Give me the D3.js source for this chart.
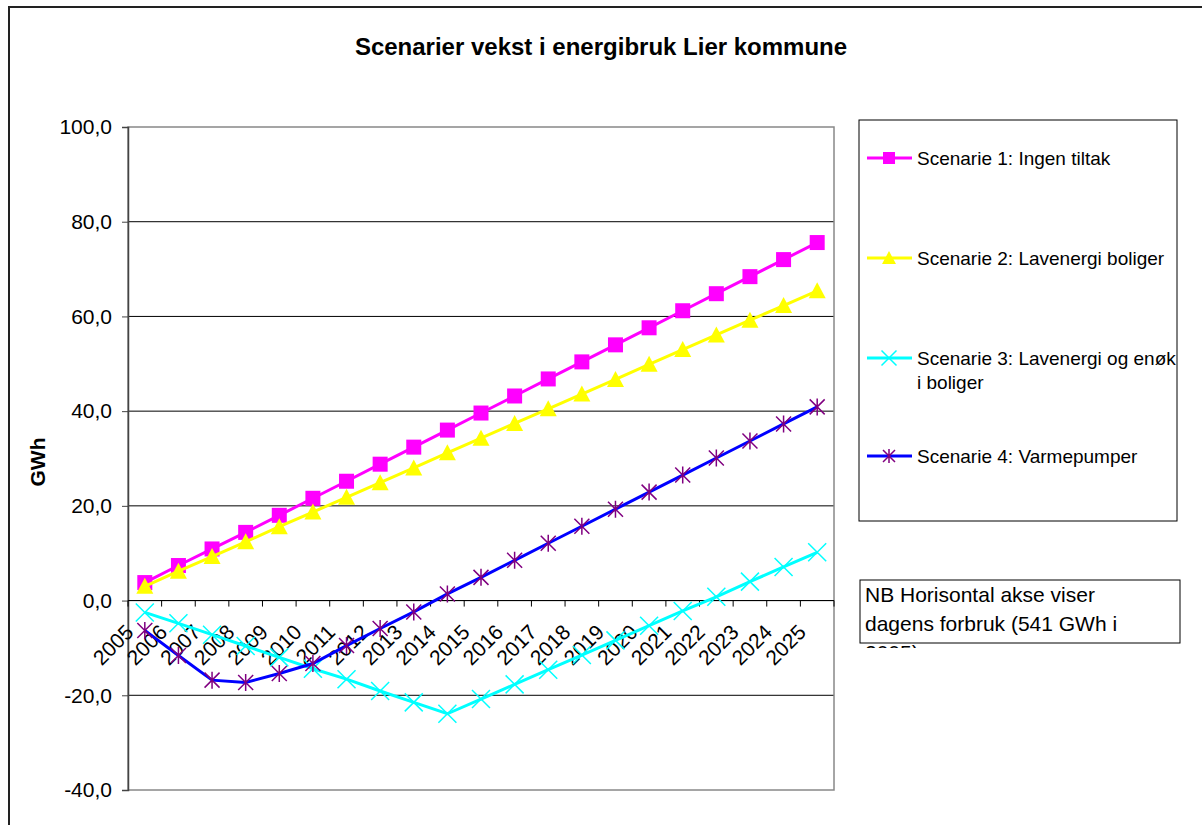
<!DOCTYPE html>
<html>
<head>
<meta charset="utf-8">
<script src="https://cdn.jsdelivr.net/npm/d3@7"></script>
<style>
  body { margin: 0; background: #fff; }
  svg { display: block; font-family: "Liberation Sans", Arial, sans-serif; }
</style>
</head>
<body>
<svg id="chart" width="1202" height="825"></svg>
<script>
var years = ["2005","2006","2007","2008","2009","2010","2011","2012","2013","2014","2015",
             "2016","2017","2018","2019","2020","2021","2022","2023","2024","2025"];

var scen1 = [3.8, 7.4, 10.9, 14.4, 18.0, 21.6, 25.2, 28.8, 32.4, 36.0, 39.6,
             43.2, 46.8, 50.4, 54.0, 57.6, 61.2, 64.8, 68.4, 72.0, 75.6];
var scen2 = [3.0, 6.2, 9.3, 12.4, 15.6, 18.7, 21.8, 24.9, 28.0, 31.2, 34.3,
             37.4, 40.5, 43.6, 46.7, 49.9, 53.0, 56.1, 59.2, 62.3, 65.4];
var scen3 = [-2.5, -4.8, -7.2, -9.6, -12.0, -14.4, -16.6, -19.1, -21.5, -23.9, -20.8,
             -17.7, -14.6, -11.5, -8.4, -5.3, -2.2, 0.8, 4.0, 7.1, 10.2];
var scen4 = [-6.3, -11.6, -16.8, -17.3, -15.4, -13.3, -9.5, -5.9, -2.4, 1.4, 4.9,
             8.5, 12.1, 15.7, 19.3, 22.9, 26.5, 30.1, 33.7, 37.3, 40.9];

var seriesNames = ["Scenarie 1: Ingen tiltak", "Scenarie 2: Lavenergi boliger",
                   "Scenarie 3: Lavenergi og enøk i boliger", "Scenarie 4: Varmepumper"];
var yTicks = [-40, -20, 0, 20, 40, 60, 80, 100];

var series = [
  {name: seriesNames[0], values: scen1, line: "#ff00ff", mark: "#ff00ff", shape: "square"},
  {name: seriesNames[1], values: scen2, line: "#ffff00", mark: "#ffff00", shape: "triangle"},
  {name: seriesNames[2], values: scen3, line: "#00ffff", mark: "#00ffff", shape: "x"},
  {name: seriesNames[3], values: scen4, line: "#0000ff", mark: "#800080", shape: "star"}
];

var svg = d3.select("#chart");
var fmt = function(v) { return d3.format(".1f")(v).replace(".", ",").replace("−", "-"); };

// outer chart border
svg.append("rect")
  .attr("x", 9).attr("y", 7).attr("width", 1300).attr("height", 900)
  .attr("fill", "none").attr("stroke", "#222").attr("stroke-width", 2);

svg.append("text")
  .attr("x", 601).attr("y", 55)
  .attr("text-anchor", "middle")
  .style("font-size", "24px").style("font-weight", "bold")
  .text("Scenarier vekst i energibruk Lier kommune");

var pLeft = 128, pRight = 834, pTop = 127, pBottom = 790;

var x = d3.scaleBand().domain(years).range([pLeft, pRight]);
var y = d3.scaleLinear().domain([-40, 100]).range([pBottom, pTop]);

// gridlines
svg.append("g")
  .selectAll("line")
  .data(yTicks.filter(function(d) { return d > -40 && d < 100; }))
  .enter().append("line")
  .attr("x1", pLeft).attr("x2", pRight)
  .attr("y1", function(d) { return y(d); })
  .attr("y2", function(d) { return y(d); })
  .attr("stroke", "#000").attr("stroke-width", 1);

// plot area border
svg.append("rect")
  .attr("x", pLeft).attr("y", pTop)
  .attr("width", pRight - pLeft).attr("height", pBottom - pTop)
  .attr("fill", "none").attr("stroke", "#888").attr("stroke-width", 1.5);

// y axis
var yAxis = svg.append("g")
  .attr("transform", "translate(" + pLeft + ",0)")
  .call(d3.axisLeft(y).tickValues(yTicks).tickSize(6).tickPadding(10).tickFormat(fmt));
yAxis.select(".domain").attr("stroke", "#444").attr("stroke-width", 1.5);
yAxis.selectAll("line").attr("stroke", "#444");
yAxis.selectAll("text")
  .style("font-size", "21px").style("font-family", "Liberation Sans, Arial, sans-serif")
  .attr("fill", "#000");

svg.append("text")
  .attr("transform", "translate(45,462) rotate(-90)")
  .attr("text-anchor", "middle")
  .style("font-size", "21px").style("font-weight", "bold")
  .text("GWh");

// x axis at zero
var xAxis = svg.append("g").attr("transform", "translate(0," + y(0) + ")");
xAxis.append("line")
  .attr("x1", pLeft).attr("x2", pRight)
  .attr("stroke", "#000").attr("stroke-width", 1);
xAxis.selectAll("line.tk")
  .data(years.concat(["end"]))
  .enter().append("line")
  .attr("class", "tk")
  .attr("x1", function(d, i) { return pLeft + i * x.bandwidth(); })
  .attr("x2", function(d, i) { return pLeft + i * x.bandwidth(); })
  .attr("y1", 0).attr("y2", 6)
  .attr("stroke", "#000");
xAxis.selectAll("text")
  .data(years)
  .enter().append("text")
  .attr("transform", function(d) {
    return "translate(" + (x(d) + x.bandwidth() / 2 - 10) + ",33) rotate(-45)";
  })
  .attr("text-anchor", "end")
  .style("font-size", "21px")
  .text(function(d) { return d; });

// lines
var line = d3.line()
  .x(function(d, i) { return x(years[i]) + x.bandwidth() / 2; })
  .y(function(d) { return y(d); });

function drawMarker(g, shape, color, size) {
  var h = size / 2;
  if (shape == "square") {
    g.append("rect").attr("x", -h).attr("y", -h).attr("width", size).attr("height", size)
      .attr("fill", color);
  } else if (shape == "triangle") {
    g.append("path").attr("d", "M0," + (-h - 1) + "L" + (h + 1) + "," + (h) + "L" + (-h - 1) + "," + h + "Z")
      .attr("fill", color);
  } else if (shape == "x") {
    h = h + 1.5;
    g.append("path").attr("d", "M" + (-h) + "," + (-h) + "L" + h + "," + h + "M" + h + "," + (-h) + "L" + (-h) + "," + h)
      .attr("stroke", color).attr("stroke-width", 1.5).attr("fill", "none");
  } else {
    g.append("path").attr("d", "M" + (-h) + "," + (-h) + "L" + h + "," + h + "M" + h + "," + (-h) + "L" + (-h) + "," + h +
        "M0," + (-h - 1) + "L0," + (h + 1))
      .attr("stroke", color).attr("stroke-width", 1.5).attr("fill", "none");
  }
}

series.forEach(function(s) {
  svg.append("path")
    .datum(s.values)
    .attr("d", line)
    .attr("fill", "none")
    .attr("stroke", s.line)
    .attr("stroke-width", 3);
  svg.append("g")
    .selectAll("g")
    .data(s.values)
    .enter().append("g")
    .attr("transform", function(d, i) {
      return "translate(" + (x(years[i]) + x.bandwidth() / 2) + "," + y(d) + ")";
    })
    .each(function() { drawMarker(d3.select(this), s.shape, s.mark, 15); });
});

// legend
var legend = svg.append("g");
legend.append("rect")
  .attr("x", 859).attr("y", 120).attr("width", 318).attr("height", 401)
  .attr("fill", "#fff").attr("stroke", "#000").attr("stroke-width", 1);
var legY = [158, 258, 358, 456];
series.forEach(function(s, i) {
  var g = legend.append("g").attr("transform", "translate(0," + legY[i] + ")");
  g.append("line").attr("x1", 867).attr("x2", 912)
    .attr("stroke", s.line).attr("stroke-width", 3);
  var m = g.append("g").attr("transform", "translate(889,0)");
  drawMarker(m, s.shape, s.mark, 12);
  var t = g.append("text").attr("x", 917).attr("y", 7).style("font-size", "19px");
  if (i == 2) {
    t.append("tspan").attr("x", 917).text("Scenarie 3: Lavenergi og enøk");
    t.append("tspan").attr("x", 917).attr("dy", 24).text("i boliger");
  } else {
    t.text(s.name);
  }
});

// note box
svg.append("clipPath").attr("id", "noteclip")
  .append("rect").attr("x", 860).attr("y", 580).attr("width", 320).attr("height", 68);
svg.append("rect")
  .attr("x", 860).attr("y", 580).attr("width", 320).attr("height", 63)
  .attr("fill", "#fff").attr("stroke", "#000").attr("stroke-width", 1);
var note = svg.append("text").attr("clip-path", "url(#noteclip)")
  .style("font-size", "21px");
["NB Horisontal akse viser", "dagens forbruk (541 GWh i", "2005)"].forEach(function(l, i) {
  note.append("tspan").attr("x", 865).attr("y", 602 + i * 29).text(l);
});
</script>
</body>
</html>
